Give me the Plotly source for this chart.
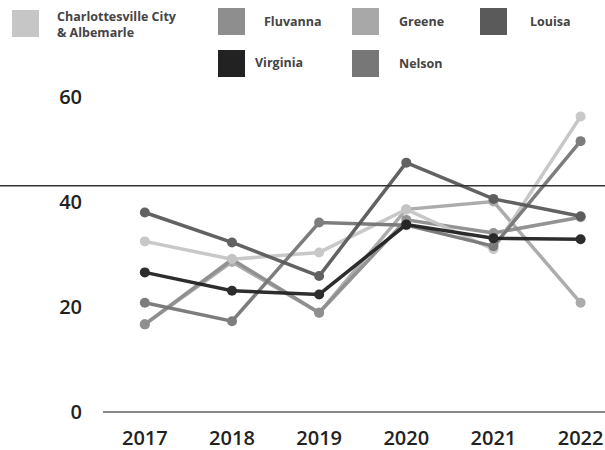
import plotly.graph_objects as go

years = [2017, 2018, 2019, 2020, 2021, 2022]
charlottesville = [32.4, 29, 30.3, 38.5, 30.9, 56.2]
fluvanna = [16.6, 29, 18.8, 36.5, 34, 37]
greene = [16.6, 28.5, 18.8, 38.5, 40, 20.7]
louisa = [37.9, 32.2, 25.8, 47.4, 40.5, 37.2]
virginia = [26.5, 23, 22.3, 35.6, 33, 32.8]
nelson = [20.7, 17.2, 36, 35.5, 31.5, 51.5]

series = [
    ("Charlottesville City<br>& Albemarle", charlottesville, "#c6c6c6"),
    ("Fluvanna", fluvanna, "#8e8e8e"),
    ("Greene", greene, "#a8a8a8"),
    ("Louisa", louisa, "#5a5a5a"),
    ("Virginia", virginia, "#222222"),
    ("Nelson", nelson, "#777777"),
]

fig = go.Figure()
draw_order = [2, 1, 0, 5, 4, 3]
for i in draw_order:
    name, vals, col = series[i]
    fig.add_trace(go.Scatter(
        x=years, y=vals, mode="lines+markers", name=name,
        line=dict(color=col, width=3.5),
        marker=dict(color=col, size=10),
        showlegend=False, opacity=0.95,
    ))

W, H = 605, 450
ml, mr, mt, mb = 103, 0, 86, 28
pw, ph = W - ml - mr, H - mt - mb

def px2paper(x, y):
    return (x - ml) / pw, (H - mb - y) / ph

legend_items = [
    (12, 10, 55, 24, series[0]),
    (218, 8, 262, 21, series[1]),
    (352, 8, 397, 21, series[2]),
    (480, 8, 528, 21, series[3]),
    (218, 50, 253, 62, series[4]),
    (352, 50, 397, 63, series[5]),
]
shapes = []
annotations = []
for sx, sy, tx, ty, (name, _, col) in legend_items:
    x0, y0 = px2paper(sx, sy)
    x1, y1 = px2paper(sx + 27, sy + 27)
    shapes.append(dict(type="rect", xref="paper", yref="paper",
                       x0=x0, x1=x1, y0=y1, y1=y0,
                       fillcolor=col, line=dict(width=0)))
    ax, ay = px2paper(tx, ty)
    annotations.append(dict(xref="paper", yref="paper", x=ax, y=ay,
                            text=name, showarrow=False, xanchor="left",
                            yanchor="middle", align="left",
                            font=dict(family="Open Sans", size=12.5,
                                      color="#444444", weight=700)))

lx0, _ = px2paper(0, 0)
lx1, _ = px2paper(605, 0)
shapes.append(dict(type="line", xref="paper", yref="y", x0=lx0, x1=lx1,
                   y0=43, y1=43, line=dict(color="#333333", width=1.5)))

fig.update_layout(
    width=W, height=H,
    margin=dict(l=ml, r=mr, t=mt, b=mb),
    paper_bgcolor="white", plot_bgcolor="white",
    shapes=shapes, annotations=annotations,
    xaxis=dict(range=[2016.52, 2022.28], tickvals=years,
               ticktext=[str(y) for y in years],
               showgrid=False, zeroline=False, showline=False,
               tickfont=dict(family="Open Sans", size=20, color="#222222", weight=600),
               ticklabelstandoff=2),
    yaxis=dict(range=[-2, 62], tickvals=[0, 20, 40, 60],
               showgrid=False, zeroline=True, zerolinecolor="#888888",
               zerolinewidth=1.5,
               tickfont=dict(family="Open Sans", size=20, color="#222222", weight=600),
               ticklabelstandoff=20),
)

fig.write_html("out.html")
